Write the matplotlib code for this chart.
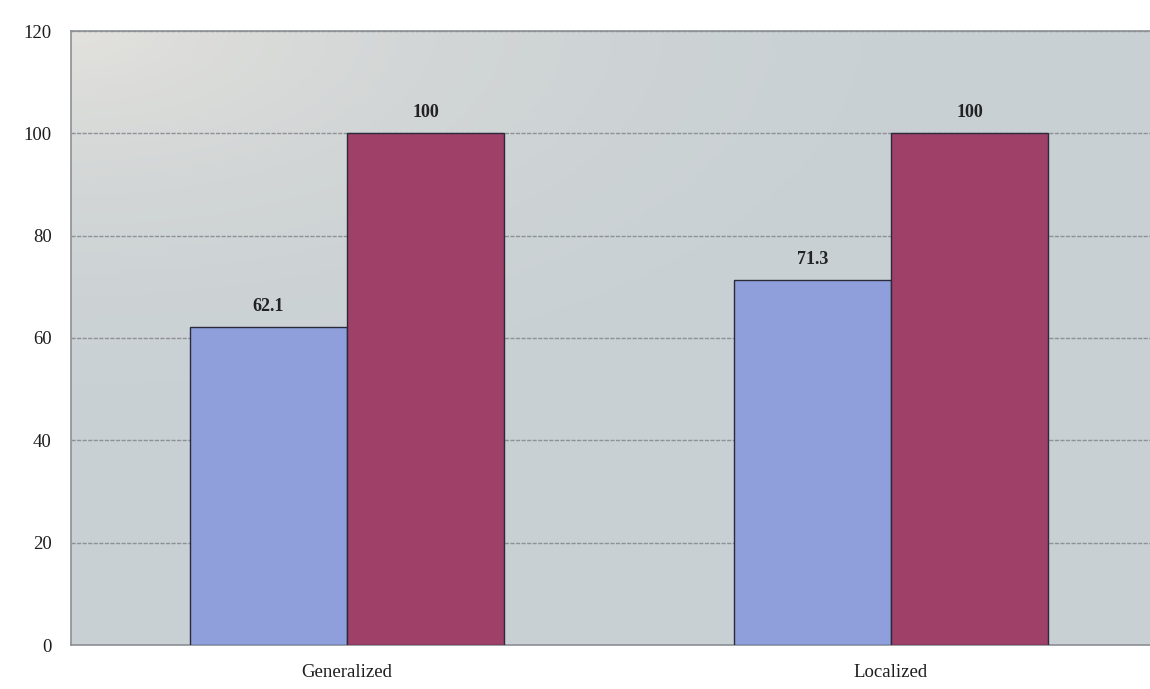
import matplotlib.pyplot as plt
import numpy as np
from matplotlib.colors import LinearSegmentedColormap

categories = ["Generalized", "Localized"]
series_a = [62.1, 71.3]
series_b = [100, 100]
y_ticks = [0, 20, 40, 60, 80, 100, 120]

BLUE = "#8f9fdc"
MAROON = "#9e4068"

plt.rcParams["font.family"] = ["Liberation Serif", "DejaVu Serif"]

fig = plt.figure(figsize=(11.5, 6.89), dpi=100)
ax = fig.add_axes([71 / 1150, 44 / 689, (1150 - 71) / 1150, (645 - 31) / 689])

# soft shading of the plot area, lightest in the upper left corner
yy, xx = np.mgrid[0:1:200j, 0:1:300j]
dist = np.hypot(xx * 1.1, (1 - yy) * 1.4)
shade = np.clip(1 - dist / 1.0, 0, 1) ** 1.5
cmap = LinearSegmentedColormap.from_list("bg", ["#c8d0d4", "#d2d6d6", "#e2e1dd"])
ax.imshow(shade, cmap=cmap, extent=[0, 1, 0, 1], transform=ax.transAxes,
          aspect="auto", zorder=0, origin="lower")

x = np.arange(len(categories))
w = 0.289
bars_a = ax.bar(x - w / 2, series_a, w, color=BLUE, edgecolor="#2a2a3a", linewidth=1.0, zorder=3)
bars_b = ax.bar(x + w / 2, series_b, w, color=MAROON, edgecolor="#2a2a3a", linewidth=1.0, zorder=3)

for bars, vals in ((bars_a, series_a), (bars_b, series_b)):
    for b, v in zip(bars, vals):
        ax.annotate(f"{v:g}", (b.get_x() + b.get_width() / 2, v), xytext=(0, 9),
                    textcoords="offset points", ha="center", va="bottom",
                    fontsize=13, fontweight="bold", color="#222222", zorder=4)

ax.set_xlim(-0.5 - 4 / 544, 1.5 - 13 / 544)
ax.set_ylim(0, 120)
ax.set_yticks(y_ticks)
ax.set_xticks(x)
ax.set_xticklabels(categories)
ax.tick_params(axis="both", length=0, labelsize=13.5, colors="#1e1e1e")
ax.tick_params(axis="y", pad=14)
ax.tick_params(axis="x", pad=14)

ax.yaxis.grid(True, color="#8e9296", linewidth=1.0, linestyle=(0, (3, 1)), zorder=1)
ax.set_axisbelow(True)
for side in ("left", "top", "bottom"):
    ax.spines[side].set_color("#8c9094")
    ax.spines[side].set_linewidth(1.2)
ax.spines["top"].set_linestyle((0, (3, 1)))
ax.spines["right"].set_visible(False)

fig.savefig("out.png", dpi=100)
